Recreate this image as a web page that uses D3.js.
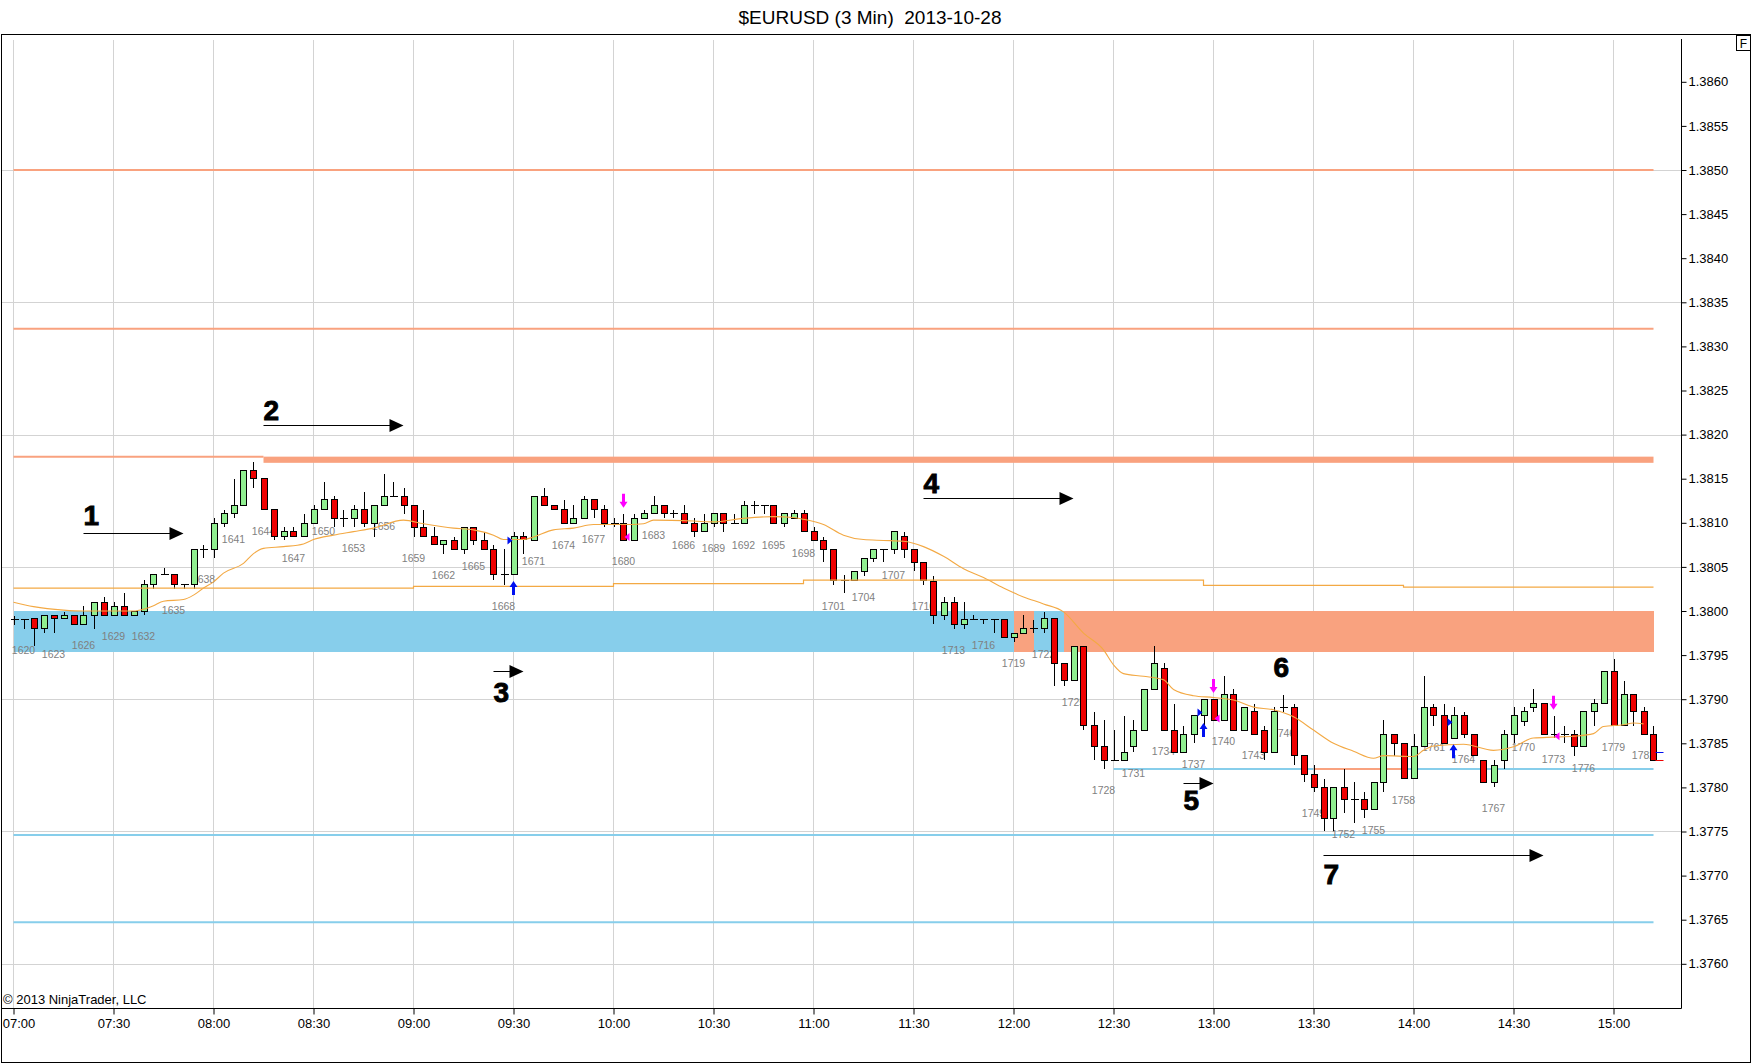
<!DOCTYPE html>
<html>
<head>
<meta charset="utf-8">
<script src="https://cdn.jsdelivr.net/npm/d3@7"></script>
<style>
  body { margin: 0; background: #fff; }
  svg { display: block; font-family: "Liberation Sans", Arial, sans-serif; }
</style>
</head>
<body>
<div id="chart"></div>
<script>
// bar numbers start at 1619 (07:00), one bar every 3 minutes
const firstBar = 1619;

const opens = [
  1.37990,1.37990,1.37991,1.37980,1.37995,1.37991,1.37995,1.37985,1.37995,1.38010,
  1.37995,1.38005,1.37995,1.37999,1.38030,1.38041,1.38041,1.38030,1.38030,1.38070,
  1.38070,1.38099,1.38110,1.38120,1.38159,1.38150,1.38115,1.38084,1.38090,1.38084,
  1.38099,1.38115,1.38126,1.38105,1.38105,1.38115,1.38099,1.38120,1.38130,1.38130,
  1.38120,1.38095,1.38084,1.38075,1.38080,1.38070,1.38095,1.38080,1.38070,1.38041,
  1.38041,1.38084,1.38080,1.38130,1.38120,1.38115,1.38099,1.38105,1.38126,1.38115,
  1.38099,1.38099,1.38080,1.38105,1.38110,1.38120,1.38110,1.38110,1.38099,1.38090,
  1.38099,1.38110,1.38099,1.38099,1.38120,1.38120,1.38120,1.38099,1.38105,1.38110,
  1.38090,1.38080,1.38070,1.38035,1.38035,1.38045,1.38060,1.38070,1.38070,1.38084,
  1.38070,1.38055,1.38034,1.37995,1.38010,1.37985,1.37990,1.37990,1.37990,1.37990,
  1.37970,1.37975,1.37980,1.37980,1.37991,1.37941,1.37921,1.37960,1.37870,1.37846,
  1.37831,1.37831,1.37846,1.37865,1.37911,1.37935,1.37865,1.37840,1.37860,1.37881,
  1.37900,1.37876,1.37905,1.37865,1.37886,1.37865,1.37840,1.37891,1.37891,1.37836,
  1.37815,1.37800,1.37765,1.37800,1.37786,1.37786,1.37775,1.37806,1.37860,1.37850,
  1.37810,1.37846,1.37891,1.37881,1.37856,1.37881,1.37860,1.37831,1.37806,1.37831,
  1.37860,1.37875,1.37891,1.37895,1.37860,1.37860,1.37860,1.37846,1.37886,1.37895,
  1.37931,1.37870,1.37905,1.37886,1.37860
];
const highs = [
  1.37994,1.37991,1.37991,1.37995,1.37995,1.37999,1.37995,1.38006,1.38010,1.38016,
  1.38010,1.38020,1.37999,1.38035,1.38041,1.38049,1.38041,1.38030,1.38070,1.38075,
  1.38105,1.38115,1.38150,1.38159,1.38169,1.38150,1.38115,1.38095,1.38095,1.38110,
  1.38120,1.38146,1.38130,1.38115,1.38120,1.38135,1.38120,1.38155,1.38146,1.38140,
  1.38120,1.38115,1.38095,1.38080,1.38084,1.38095,1.38095,1.38090,1.38075,1.38070,
  1.38090,1.38090,1.38130,1.38140,1.38120,1.38126,1.38120,1.38130,1.38126,1.38120,
  1.38105,1.38110,1.38110,1.38115,1.38130,1.38120,1.38115,1.38120,1.38105,1.38110,
  1.38110,1.38110,1.38110,1.38125,1.38125,1.38120,1.38120,1.38110,1.38115,1.38115,
  1.38095,1.38084,1.38070,1.38041,1.38045,1.38060,1.38070,1.38070,1.38090,1.38090,
  1.38070,1.38055,1.38040,1.38016,1.38016,1.38010,1.37995,1.37990,1.37990,1.37990,
  1.37975,1.37995,1.37990,1.37999,1.37991,1.37941,1.37960,1.37960,1.37886,1.37876,
  1.37865,1.37881,1.37876,1.37911,1.37960,1.37941,1.37895,1.37870,1.37881,1.37900,
  1.37900,1.37926,1.37911,1.37891,1.37895,1.37870,1.37891,1.37905,1.37895,1.37836,
  1.37825,1.37810,1.37800,1.37821,1.37806,1.37795,1.37806,1.37876,1.37860,1.37850,
  1.37860,1.37926,1.37895,1.37895,1.37891,1.37886,1.37860,1.37831,1.37831,1.37865,
  1.37891,1.37891,1.37911,1.37895,1.37881,1.37870,1.37865,1.37886,1.37900,1.37931,
  1.37946,1.37921,1.37905,1.37891,1.37870
];
const lows = [
  1.37984,1.37980,1.37960,1.37975,1.37975,1.37991,1.37985,1.37985,1.37980,1.37995,
  1.37995,1.37995,1.37995,1.37995,1.38025,1.38041,1.38025,1.38025,1.38025,1.38060,
  1.38060,1.38095,1.38105,1.38120,1.38140,1.38115,1.38080,1.38080,1.38084,1.38084,
  1.38099,1.38115,1.38095,1.38095,1.38095,1.38095,1.38084,1.38120,1.38130,1.38110,
  1.38084,1.38084,1.38075,1.38065,1.38070,1.38065,1.38075,1.38070,1.38035,1.38030,
  1.38041,1.38065,1.38080,1.38120,1.38115,1.38099,1.38099,1.38105,1.38105,1.38095,
  1.38095,1.38080,1.38080,1.38105,1.38110,1.38105,1.38105,1.38099,1.38084,1.38090,
  1.38095,1.38090,1.38099,1.38099,1.38110,1.38110,1.38099,1.38095,1.38105,1.38090,
  1.38080,1.38055,1.38030,1.38020,1.38035,1.38040,1.38055,1.38055,1.38065,1.38060,
  1.38045,1.38030,1.37985,1.37990,1.37980,1.37980,1.37990,1.37985,1.37975,1.37970,
  1.37965,1.37975,1.37975,1.37975,1.37915,1.37915,1.37921,1.37865,1.37831,1.37821,
  1.37831,1.37831,1.37840,1.37865,1.37911,1.37865,1.37840,1.37840,1.37850,1.37859,
  1.37876,1.37876,1.37865,1.37865,1.37860,1.37831,1.37840,1.37886,1.37825,1.37806,
  1.37795,1.37751,1.37751,1.37771,1.37760,1.37765,1.37775,1.37795,1.37836,1.37810,
  1.37810,1.37846,1.37870,1.37850,1.37856,1.37856,1.37836,1.37806,1.37800,1.37821,
  1.37850,1.37870,1.37886,1.37860,1.37856,1.37850,1.37836,1.37846,1.37870,1.37895,
  1.37870,1.37870,1.37870,1.37860,1.37831
];
const closes = [
  1.37990,1.37990,1.37980,1.37995,1.37991,1.37995,1.37985,1.37995,1.38010,1.37995,
  1.38005,1.37995,1.37999,1.38030,1.38041,1.38041,1.38030,1.38030,1.38070,1.38070,
  1.38099,1.38110,1.38120,1.38159,1.38150,1.38115,1.38084,1.38090,1.38084,1.38099,
  1.38115,1.38126,1.38105,1.38105,1.38115,1.38099,1.38120,1.38130,1.38130,1.38120,
  1.38095,1.38084,1.38075,1.38080,1.38070,1.38095,1.38080,1.38070,1.38041,1.38041,
  1.38084,1.38081,1.38130,1.38120,1.38115,1.38099,1.38105,1.38126,1.38115,1.38099,
  1.38099,1.38080,1.38105,1.38110,1.38120,1.38110,1.38110,1.38099,1.38090,1.38099,
  1.38110,1.38099,1.38099,1.38120,1.38120,1.38120,1.38099,1.38110,1.38110,1.38090,
  1.38080,1.38070,1.38035,1.38035,1.38045,1.38060,1.38070,1.38070,1.38090,1.38070,
  1.38055,1.38035,1.37995,1.38010,1.37985,1.37990,1.37990,1.37990,1.37990,1.37970,
  1.37975,1.37980,1.37980,1.37991,1.37941,1.37921,1.37960,1.37870,1.37846,1.37831,
  1.37831,1.37840,1.37865,1.37911,1.37941,1.37865,1.37840,1.37860,1.37881,1.37900,
  1.37876,1.37905,1.37865,1.37891,1.37860,1.37840,1.37886,1.37891,1.37836,1.37815,
  1.37800,1.37765,1.37800,1.37786,1.37786,1.37775,1.37806,1.37860,1.37850,1.37810,
  1.37846,1.37891,1.37881,1.37850,1.37881,1.37860,1.37836,1.37806,1.37825,1.37860,
  1.37881,1.37886,1.37895,1.37860,1.37860,1.37860,1.37846,1.37886,1.37895,1.37931,
  1.37870,1.37905,1.37886,1.37860,1.37831
];

// moving average: bar number / value
const maBars = [1619,1621,1624,1626,1631,1632,1633,1634,1636,1637,1638,1639,1640,1642,1643,1644,1646,1648,1649,1651,
  1653,1655,1658,1660,1663,1665,1667,1668,1670,1671,1673,1675,1677,1680,1682,1683,1687,1689,1692,1695,
  1697,1698,1700,1702,1704,1706,1708,1710,1712,1714,1716,1718,1720,1722,1724,1726,1728,1729,1730,1732,
  1734,1735,1737,1739,1741,1743,1745,1747,1749,1751,1753,1755,1756,1759,1760,1761,1764,1767,1769,1771,
  1773,1775,1777,1778,1780,1781,1782];
const maVals = [1.38010,1.38005,1.38001,1.38000,1.38000,1.38002,1.38006,1.38011,1.38013,1.38018,1.38026,1.38033,1.38043,1.38054,1.38065,1.38071,1.38073,1.38076,1.38081,1.38086,
  1.38090,1.38094,1.38103,1.38099,1.38094,1.38092,1.38086,1.38081,1.38081,1.38084,1.38092,1.38094,1.38098,1.38098,1.38099,1.38103,1.38102,1.38101,1.38105,1.38107,
  1.38106,1.38104,1.38098,1.38086,1.38081,1.38080,1.38079,1.38073,1.38062,1.38048,1.38038,1.38026,1.38016,1.38008,1.37999,1.37975,1.37956,1.37939,1.37929,1.37926,
  1.37922,1.37911,1.37904,1.37902,1.37899,1.37891,1.37888,1.37880,1.37865,1.37850,1.37841,1.37833,1.37836,1.37835,1.37842,1.37847,1.37849,1.37842,1.37846,1.37856,
  1.37857,1.37858,1.37861,1.37869,1.37871,1.37873,1.37872];

// stepped session line
const stepBars = [1619, 1659, 1679, 1698, 1738, 1758, 1783];
const stepVals = [1.38026, 1.38028, 1.38031, 1.38035, 1.38029, 1.38027, 1.38027];

// zones: start bar, end bar, top, bottom, colour key
const zoneStart = [1619, 1719, 1721, 1724];
const zoneEnd   = [1719, 1721, 1724, 1783];
const zoneTop   = [1.38000, 1.38000, 1.38000, 1.38000];
const zoneBot   = [1.37954, 1.37954, 1.37954, 1.37954];
const zoneKind  = ["sup", "res", "sup", "res"];

// horizontal levels
const levelPrice = [1.38500, 1.38320, 1.38175, 1.37821, 1.37821, 1.37746, 1.37647];
const levelStart = [1619, 1619, 1619, 1729, 1749, 1619, 1619];
const levelEnd   = [1783, 1783, 1644, 1783, 1758, 1783, 1783];
const levelKind  = ["res", "res", "res", "sup", "res", "sup", "sup"];
const bandStart = 1644, bandEnd = 1783, bandTop = 1.38175, bandBot = 1.38168;

// signals
const buyBars = [1669, 1738, 1763];
const buyTips = [1.38034, 1.37873, 1.37849];
const buyMarks = [1.38080, 1.37885, 1.37874];
const sellBars = [1680, 1739, 1773];
const sellTips = [1.38117, 1.37907, 1.37888];
const sellMarks = [1.38084, 1.37878, 1.37858];

// numbered notes and arrows
const noteText  = ["1", "2", "3", "4", "5", "6", "7"];
const noteBar   = [1626.2, 1644.0, 1667.1, 1710.1, 1736.1, 1745.1, 1750.2];
const notePrice = [1.38098, 1.38217, 1.37897, 1.38134, 1.37774, 1.37925, 1.37690];
const arrowFrom  = [1626.0, 1644.0, 1667.0, 1710.1, 1736.0, 1750.1];
const arrowTo    = [1636.0, 1658.0, 1670.0, 1725.0, 1739.0, 1772.0];
const arrowPrice = [1.38089, 1.38211, 1.37932, 1.38128, 1.37805, 1.37723];

const priceTicks = [1.3760,1.3765,1.3770,1.3775,1.3780,1.3785,1.3790,1.3795,1.3800,1.3805,
  1.3810,1.3815,1.3820,1.3825,1.3830,1.3835,1.3840,1.3845,1.3850,1.3855,1.3860];
const gridPrices = [1.3850, 1.3835, 1.3820, 1.3805, 1.3790, 1.3775, 1.3760];
const timeTicks = ["07:00","07:30","08:00","08:30","09:00","09:30","10:00","10:30","11:00",
  "11:30","12:00","12:30","13:00","13:30","14:00","14:30","15:00"];
const lastQuotes = [1.37840, 1.37831];

const W = 1752, H = 1064;
const plotL = 1, plotR = 1681.5, plotT = 40, plotB = 1008.5;
const SALMON = "#F9A27F", SKY = "#87CEEB", GRID = "#D3D3D3", MA = "#F3A944";

const parseT = d3.timeParse("%Y-%m-%d %H:%M");
const t0 = parseT("2013-10-28 07:00");
const x = d3.scaleTime()
  .domain([t0, parseT("2013-10-28 15:00")])
  .range([13.5, 1613.5]);
const y = d3.scaleLinear().domain([1.3760, 1.3850]).range([963.8, 170]);
const xb = n => x(d3.timeMinute.offset(t0, (n - firstBar) * 3));

const bars = opens.map((o, i) => ({
  n: firstBar + i, o, h: highs[i], l: lows[i], c: closes[i]
}));

const svg = d3.select("#chart").append("svg")
  .attr("width", W).attr("height", H)
  .attr("viewBox", `0 0 ${W} ${H}`);

svg.append("rect").attr("width", W).attr("height", H).attr("fill", "#fff");

// title
svg.append("text")
  .attr("x", 870).attr("y", 24)
  .attr("text-anchor", "middle")
  .attr("font-size", "19px")
  .style("white-space", "pre")
  .text("$EURUSD (3 Min)  2013-10-28");

// grid
const tickDates = timeTicks.map(s => parseT("2013-10-28 " + s));
svg.append("g").selectAll("line").data(tickDates).enter().append("line")
  .attr("x1", d => x(d)).attr("x2", d => x(d))
  .attr("y1", plotT).attr("y2", plotB)
  .attr("stroke", GRID).attr("shape-rendering", "crispEdges");
svg.append("g").selectAll("line").data(gridPrices).enter().append("line")
  .attr("x1", plotL).attr("x2", plotR)
  .attr("y1", d => Math.round(y(d)) + 0.5).attr("y2", d => Math.round(y(d)) + 0.5)
  .attr("stroke", GRID).attr("shape-rendering", "crispEdges");

// zones
svg.append("g").selectAll("rect").data(zoneStart).enter().append("rect")
  .attr("x", (d, i) => xb(d))
  .attr("width", (d, i) => xb(zoneEnd[i]) - xb(d))
  .attr("y", (d, i) => y(zoneTop[i]))
  .attr("height", (d, i) => y(zoneBot[i]) - y(zoneTop[i]))
  .attr("fill", (d, i) => zoneKind[i] === "sup" ? SKY : SALMON)
  .attr("shape-rendering", "crispEdges");

// levels
svg.append("g").selectAll("line").data(levelPrice).enter().append("line")
  .attr("x1", (d, i) => xb(levelStart[i])).attr("x2", (d, i) => xb(levelEnd[i]))
  .attr("y1", d => y(d)).attr("y2", d => y(d))
  .attr("stroke", (d, i) => levelKind[i] === "sup" ? SKY : SALMON)
  .attr("stroke-width", 2);
svg.append("rect")
  .attr("x", xb(bandStart)).attr("width", xb(bandEnd) - xb(bandStart))
  .attr("y", y(bandTop)).attr("height", y(bandBot) - y(bandTop))
  .attr("fill", SALMON);

// bar numbers (every third bar), under the candles
svg.append("g").selectAll("text").data(bars.filter(b => b.n % 3 === 0)).enter().append("text")
  .attr("x", d => xb(d.n)).attr("y", d => y(d.l) + 25)
  .attr("text-anchor", "middle")
  .attr("font-size", "10.5px")
  .attr("fill", "#7f7f7f")
  .text(d => d.n);

// candles
const cg = svg.append("g").attr("shape-rendering", "crispEdges");
const candle = cg.selectAll("g").data(bars).enter().append("g")
  .attr("transform", d => `translate(${Math.round(xb(d.n)) + 0.5},0)`);
candle.append("line")
  .attr("y1", d => y(d.h)).attr("y2", d => y(d.l))
  .attr("stroke", "#000");
candle.filter(d => Math.abs(d.o - d.c) >= 0.000015).append("rect")
  .attr("x", -3).attr("width", 6)
  .attr("y", d => y(Math.max(d.o, d.c)))
  .attr("height", d => Math.max(1, y(Math.min(d.o, d.c)) - y(Math.max(d.o, d.c))))
  .attr("fill", d => d.c > d.o ? "#90EE90" : "#EE0000")
  .attr("stroke", "#000");
candle.filter(d => Math.abs(d.o - d.c) < 0.000015).append("line")
  .attr("x1", -4).attr("x2", 4)
  .attr("y1", d => y(d.o)).attr("y2", d => y(d.o))
  .attr("stroke", "#000");

// step line and moving average
svg.append("path")
  .datum(stepBars.map((b, i) => [xb(b), y(stepVals[i])]))
  .attr("d", d3.line().curve(d3.curveStepAfter))
  .attr("fill", "none").attr("stroke", MA).attr("stroke-width", 1.2);
svg.append("path")
  .datum(maBars.map((b, i) => [xb(b), y(maVals[i])]))
  .attr("d", d3.line().curve(d3.curveMonotoneX))
  .attr("fill", "none").attr("stroke", MA).attr("stroke-width", 1.1);

// signal arrows
const upArrow = "M0,0L4,6L1.5,6L1.5,14L-1.5,14L-1.5,6L-4,6Z";
const downArrow = "M0,0L4,-6L1.5,-6L1.5,-14L-1.5,-14L-1.5,-6L-4,-6Z";
svg.append("g").selectAll("path").data(buyBars).enter().append("path")
  .attr("transform", (d, i) => `translate(${xb(d)},${y(buyTips[i])})`)
  .attr("d", upArrow).attr("fill", "#0010F0");
svg.append("g").selectAll("path").data(sellBars).enter().append("path")
  .attr("transform", (d, i) => `translate(${xb(d)},${y(sellTips[i])})`)
  .attr("d", downArrow).attr("fill", "#FF00FF");
svg.append("g").selectAll("path").data(buyBars).enter().append("path")
  .attr("transform", (d, i) => `translate(${xb(d)},${y(buyMarks[i])})`)
  .attr("d", "M-6,-4L-1,0L-6,4Z").attr("fill", "#0010F0");
svg.append("g").selectAll("path").data(sellBars).enter().append("path")
  .attr("transform", (d, i) => `translate(${xb(d)},${y(sellMarks[i])})`)
  .attr("d", "M1,0L6,-4L6,4Z").attr("fill", "#FF00FF");

// last quote marks
const lastN = firstBar + bars.length - 1;
svg.append("g").selectAll("line").data(lastQuotes).enter().append("line")
  .attr("x1", xb(lastN) + 2).attr("x2", xb(lastN) + 10)
  .attr("y1", d => Math.round(y(d)) + 0.5).attr("y2", d => Math.round(y(d)) + 0.5)
  .attr("stroke", (d, i) => i === 0 ? "#0010F0" : "#EE0000");

// numbered notes
svg.append("g").selectAll("text").data(noteText).enter().append("text")
  .attr("x", (d, i) => xb(noteBar[i])).attr("y", (d, i) => y(notePrice[i]))
  .attr("font-size", "28px").attr("font-weight", "bold")
  .attr("stroke", "#000").attr("stroke-width", 0.9)
  .text(d => d);
const ag = svg.append("g").selectAll("g").data(arrowFrom).enter().append("g");
ag.append("line")
  .attr("x1", d => xb(d)).attr("x2", (d, i) => xb(arrowTo[i]) - 12)
  .attr("y1", (d, i) => Math.round(y(arrowPrice[i])) + 0.5)
  .attr("y2", (d, i) => Math.round(y(arrowPrice[i])) + 0.5)
  .attr("stroke", "#000");
ag.append("path")
  .attr("d", (d, i) => {
    const ex = xb(arrowTo[i]), ey = Math.round(y(arrowPrice[i])) + 0.5;
    return `M${ex - 14},${ey - 6.5}L${ex},${ey}L${ex - 14},${ey + 6.5}Z`;
  })
  .attr("fill", "#000");

// axes
const xAxis = svg.append("g")
  .attr("transform", `translate(0,${plotB})`)
  .call(d3.axisBottom(x).tickValues(tickDates).tickSize(6).tickPadding(4)
    .tickFormat(d3.timeFormat("%H:%M")));
xAxis.select(".domain").remove();
xAxis.selectAll("text").attr("font-size", "13px").attr("fill", "#000")
  .attr("font-family", "Liberation Sans, Arial, sans-serif");
// first label sits against the frame: keep it fully inside
xAxis.selectAll(".tick").filter((d, i) => i === 0).select("text").attr("x", 5);

const yAxis = svg.append("g")
  .attr("transform", `translate(${plotR},0)`)
  .call(d3.axisRight(y).tickValues(priceTicks).tickSize(5).tickPadding(2)
    .tickFormat(d3.format(".4f")));
yAxis.select(".domain").remove();
yAxis.selectAll("text").attr("font-size", "13px").attr("fill", "#000")
  .attr("font-family", "Liberation Sans, Arial, sans-serif");

svg.append("line").attr("x1", plotL).attr("x2", plotR).attr("y1", plotB).attr("y2", plotB)
  .attr("stroke", "#000");
svg.append("line").attr("x1", plotR).attr("x2", plotR).attr("y1", 39).attr("y2", plotB)
  .attr("stroke", "#000");

// frame, F box, copyright
svg.append("rect")
  .attr("x", 1.5).attr("y", 34.5).attr("width", 1749).attr("height", 1028)
  .attr("fill", "none").attr("stroke", "#000");
svg.append("rect")
  .attr("x", 1736.5).attr("y", 35.5).attr("width", 14).attr("height", 15)
  .attr("fill", "#fff").attr("stroke", "#000");
svg.append("text").attr("x", 1743.5).attr("y", 48)
  .attr("text-anchor", "middle").attr("font-size", "12px").text("F");
svg.append("text").attr("x", 3).attr("y", 1004)
  .attr("font-size", "13px").text("\u00A9 2013 NinjaTrader, LLC");
</script>
</body>
</html>
